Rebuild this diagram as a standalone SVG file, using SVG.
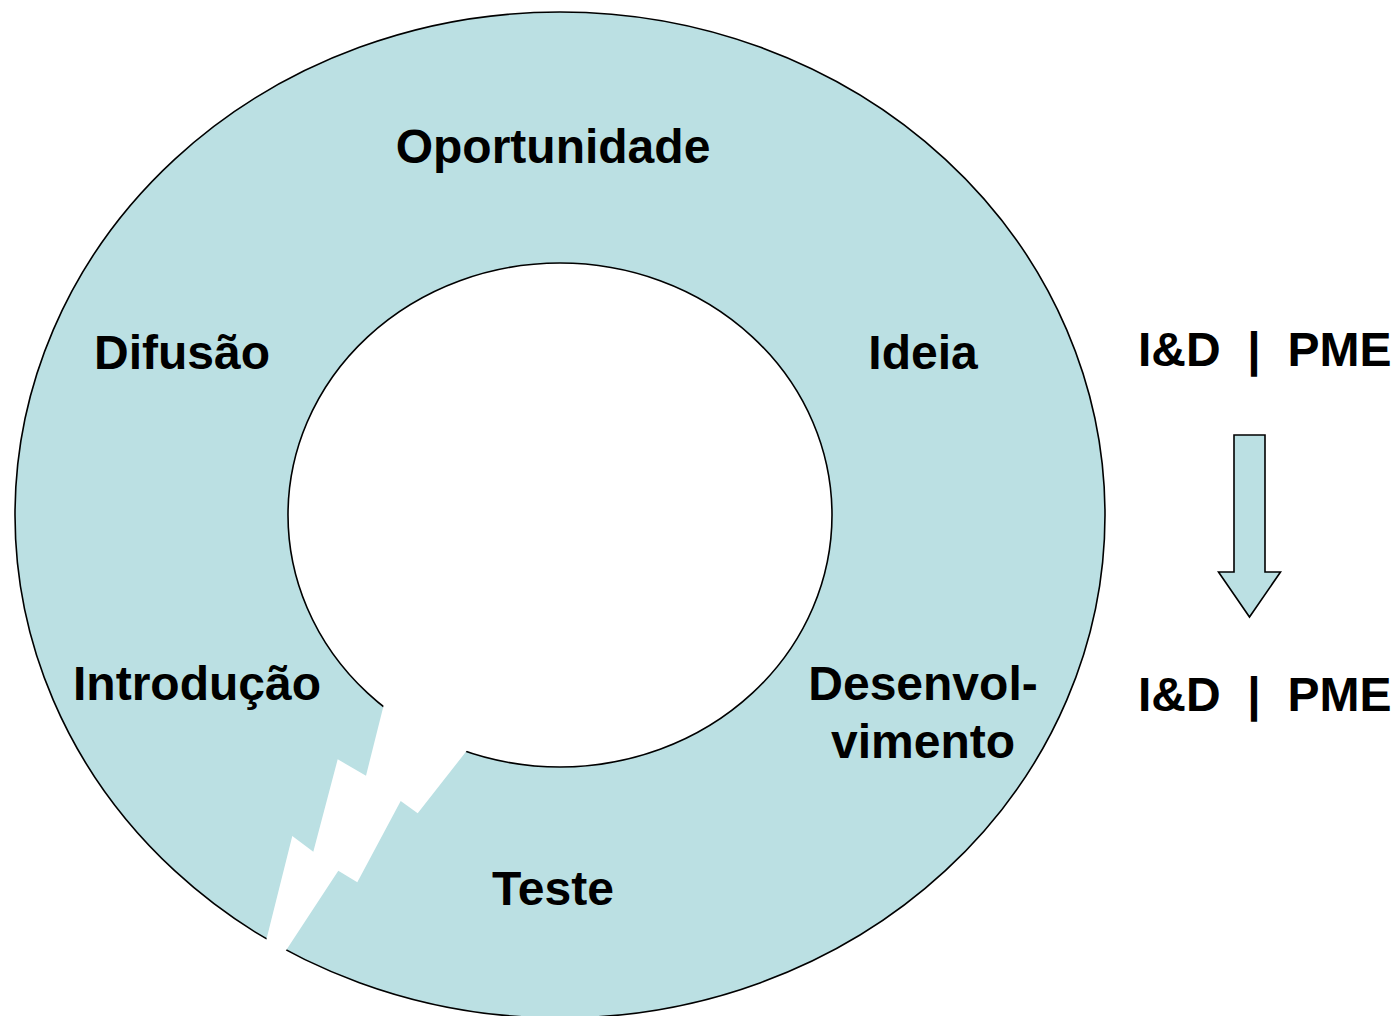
<svg xmlns="http://www.w3.org/2000/svg" width="1398" height="1016" viewBox="0 0 1398 1016">
<style>
.lbl{font-family:"Liberation Sans",Arial,sans-serif;font-weight:bold;font-size:48px;fill:#000;}
.ring{fill:#BBE0E3;stroke:#000;stroke-width:1.6;}
</style>
<rect width="1398" height="1016" fill="#fff"/>
<g id="cycle">
<ellipse class="ring" cx="560" cy="515" rx="545" ry="503"/>
<ellipse cx="560" cy="515" rx="272" ry="252" fill="#fff" stroke="#000" stroke-width="1.6"/>
<polygon fill="#fff" points="385.5,698 366,775.7 337.7,759.3 313.3,851.7 292.3,836 265.5,943 283,955 338.3,870.7 357.3,882.3 400.7,801 417.7,813.3 472,744"/>
</g>
<g id="n-oportunidade"><text class="lbl" x="553" y="163" text-anchor="middle">Oportunidade</text></g>
<g id="n-ideia"><text class="lbl" x="923" y="369" text-anchor="middle">Ideia</text></g>
<g id="n-desenvolvimento"><text class="lbl" x="923" y="700" text-anchor="middle">Desenvol-</text><text class="lbl" x="923" y="758" text-anchor="middle">vimento</text></g>
<g id="n-teste"><text class="lbl" x="553" y="905" text-anchor="middle">Teste</text></g>
<g id="n-introducao"><text class="lbl" x="197" y="700" text-anchor="middle">Introdução</text></g>
<g id="n-difusao"><text class="lbl" x="182" y="369" text-anchor="middle">Difusão</text></g>
<g id="n-id-pme-1"><text class="lbl" x="1138" y="366" xml:space="preserve" style="white-space:pre">I&amp;D  |  PME</text></g>
<g id="n-id-pme-2"><text class="lbl" x="1138" y="711" xml:space="preserve" style="white-space:pre">I&amp;D  |  PME</text></g>
<g id="connectors">
<polygon points="1234,435 1265,435 1265,572 1280.5,572 1249.5,617 1218.5,572 1234,572" fill="#BBE0E3" stroke="#000" stroke-width="1.6" stroke-linejoin="miter"/>
</g>
</svg>
